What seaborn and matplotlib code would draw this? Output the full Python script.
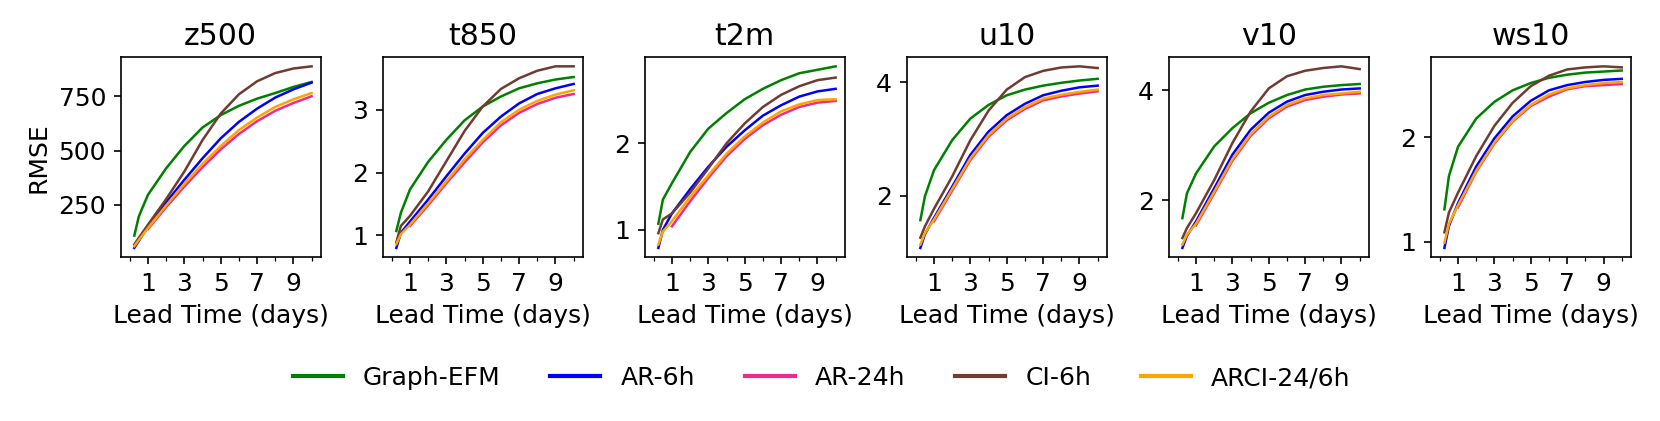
"""
RMSE vs lead time for six variables, five models.
"""

import numpy as np
import pandas as pd
import matplotlib
matplotlib.use("Agg")
import matplotlib.pyplot as plt
import seaborn as sns

# lead times (days): 6h models start at 6h, the 24h model at day 1
lead_6h = [0.25, 0.5, 1, 2, 3, 4, 5, 6, 7, 8, 9, 10]
lead_24h = [1, 2, 3, 4, 5, 6, 7, 8, 9, 10]

models = ["Graph-EFM", "AR-6h", "AR-24h", "CI-6h", "ARCI-24/6h"]
colors = ["green", "blue", "#ef2b8e", "#703b30", "orange"]
variables = ["z500", "t850", "t2m", "u10", "v10", "ws10"]
yticks = {
    "z500": [250, 500, 750],
    "t850": [1, 2, 3],
    "t2m": [1, 2],
    "u10": [2, 4],
    "v10": [2, 4],
    "ws10": [1, 2],
}

# z500
z500_graph_efm = [108, 197, 296, 418, 521, 606, 663, 706, 739, 765, 793, 816]
z500_ar_6h = [51, 84, 150, 261, 365, 464, 556, 632, 693, 744, 782, 813]
z500_ar_24h = [138, 239, 334, 423, 505, 576, 635, 683, 719, 750]
z500_ci_6h = [67, 98, 158, 276, 403, 548, 670, 759, 819, 857, 878, 888]
z500_arci = [59, 88, 143, 247, 346, 438, 521, 594, 652, 701, 736, 765]

# t850
t850_graph_efm = [1.07, 1.36, 1.73, 2.17, 2.52, 2.83, 3.05, 3.21, 3.34, 3.42, 3.48, 3.52]
t850_ar_6h = [0.80, 1.04, 1.22, 1.57, 1.94, 2.30, 2.63, 2.89, 3.10, 3.25, 3.34, 3.41]
t850_ar_24h = [1.15, 1.48, 1.83, 2.16, 2.48, 2.75, 2.95, 3.09, 3.19, 3.25]
t850_ci_6h = [0.89, 1.15, 1.31, 1.70, 2.18, 2.66, 3.05, 3.33, 3.50, 3.62, 3.69, 3.69]
t850_arci = [0.86, 1.02, 1.17, 1.51, 1.86, 2.21, 2.52, 2.80, 3.00, 3.14, 3.24, 3.31]

# t2m
t2m_graph_efm = [1.07, 1.35, 1.54, 1.90, 2.17, 2.35, 2.51, 2.63, 2.73, 2.81, 2.85, 2.89]
t2m_ar_6h = [0.79, 1.00, 1.19, 1.47, 1.73, 1.96, 2.15, 2.32, 2.44, 2.54, 2.60, 2.63]
t2m_ar_24h = [1.04, 1.33, 1.60, 1.85, 2.05, 2.21, 2.33, 2.42, 2.47, 2.49]
t2m_ci_6h = [0.96, 1.12, 1.19, 1.43, 1.71, 2.00, 2.23, 2.42, 2.56, 2.66, 2.73, 2.76]
t2m_arci = [0.83, 0.98, 1.10, 1.38, 1.63, 1.88, 2.08, 2.24, 2.37, 2.45, 2.50, 2.51]

# u10
u10_graph_efm = [1.57, 1.99, 2.45, 2.98, 3.36, 3.60, 3.77, 3.87, 3.94, 3.99, 4.03, 4.06]
u10_ar_6h = [1.08, 1.32, 1.61, 2.16, 2.72, 3.13, 3.42, 3.62, 3.77, 3.85, 3.91, 3.94]
u10_ar_24h = [1.55, 2.09, 2.63, 3.04, 3.33, 3.53, 3.68, 3.75, 3.80, 3.84]
u10_ci_6h = [1.26, 1.46, 1.77, 2.34, 2.98, 3.50, 3.87, 4.09, 4.20, 4.26, 4.28, 4.25]
u10_arci = [1.14, 1.34, 1.58, 2.12, 2.66, 3.07, 3.36, 3.56, 3.71, 3.78, 3.83, 3.87]

# v10
v10_graph_efm = [1.68, 2.13, 2.49, 2.98, 3.31, 3.58, 3.77, 3.91, 4.01, 4.06, 4.09, 4.11]
v10_ar_6h = [1.14, 1.36, 1.62, 2.22, 2.83, 3.28, 3.59, 3.79, 3.91, 3.97, 4.01, 4.03]
v10_ar_24h = [1.55, 2.13, 2.72, 3.17, 3.49, 3.70, 3.82, 3.88, 3.92, 3.94]
v10_ci_6h = [1.32, 1.50, 1.77, 2.37, 3.04, 3.61, 4.03, 4.25, 4.35, 4.40, 4.43, 4.38]
v10_arci = [1.20, 1.38, 1.58, 2.16, 2.75, 3.20, 3.52, 3.73, 3.85, 3.91, 3.94, 3.97]

# ws10
ws10_graph_efm = [1.31, 1.63, 1.91, 2.18, 2.34, 2.45, 2.52, 2.57, 2.60, 2.62, 2.63, 2.64]
ws10_ar_6h = [0.94, 1.15, 1.37, 1.72, 1.99, 2.20, 2.35, 2.45, 2.50, 2.53, 2.55, 2.56]
ws10_ar_24h = [1.33, 1.67, 1.94, 2.15, 2.30, 2.39, 2.46, 2.49, 2.50, 2.51]
ws10_ci_6h = [1.09, 1.28, 1.47, 1.82, 2.11, 2.33, 2.49, 2.59, 2.65, 2.67, 2.68, 2.67]
ws10_arci = [0.99, 1.17, 1.35, 1.68, 1.95, 2.16, 2.31, 2.41, 2.47, 2.50, 2.52, 2.53]

series = {
    "z500": [z500_graph_efm, z500_ar_6h, z500_ar_24h, z500_ci_6h, z500_arci],
    "t850": [t850_graph_efm, t850_ar_6h, t850_ar_24h, t850_ci_6h, t850_arci],
    "t2m": [t2m_graph_efm, t2m_ar_6h, t2m_ar_24h, t2m_ci_6h, t2m_arci],
    "u10": [u10_graph_efm, u10_ar_6h, u10_ar_24h, u10_ci_6h, u10_arci],
    "v10": [v10_graph_efm, v10_ar_6h, v10_ar_24h, v10_ci_6h, v10_arci],
    "ws10": [ws10_graph_efm, ws10_ar_6h, ws10_ar_24h, ws10_ci_6h, ws10_arci],
}


def long_frame(var):
    rows = []
    for model, values in zip(models, series[var]):
        leads = lead_24h if model == "AR-24h" else lead_6h
        for t, v in zip(leads, values):
            rows.append({"lead": t, "rmse": v, "model": model})
    return pd.DataFrame(rows)


plt.rcParams["font.size"] = 12

fig, axes = plt.subplots(1, 6, figsize=(1660 / 150, 421 / 150), dpi=150)
fig.subplots_adjust(left=0.0727, right=0.9824, bottom=0.3895, top=0.864, wspace=0.31)

for ax, var in zip(axes, variables):
    df = long_frame(var)
    sns.lineplot(data=df, x="lead", y="rmse", hue="model", hue_order=models,
                 palette=colors, linewidth=1.2, ax=ax, legend=False)
    ax.set_title(var)
    ax.set_xlim(-0.5, 10.5)
    ax.set_xticks([1, 3, 5, 7, 9])
    ax.set_xticks([0, 2, 4, 6, 8, 10], minor=True)
    ax.set_yticks(yticks[var])
    ax.set_xlabel("Lead Time (days)")
    ax.set_ylabel("")

axes[0].set_ylabel("RMSE")

handles = [plt.Line2D([], [], color=c, lw=2) for c in colors]
fig.legend(handles, models, loc="center", bbox_to_anchor=(0.495, 0.102),
           ncol=5, frameon=False)

fig.savefig("out.png", dpi=150)
